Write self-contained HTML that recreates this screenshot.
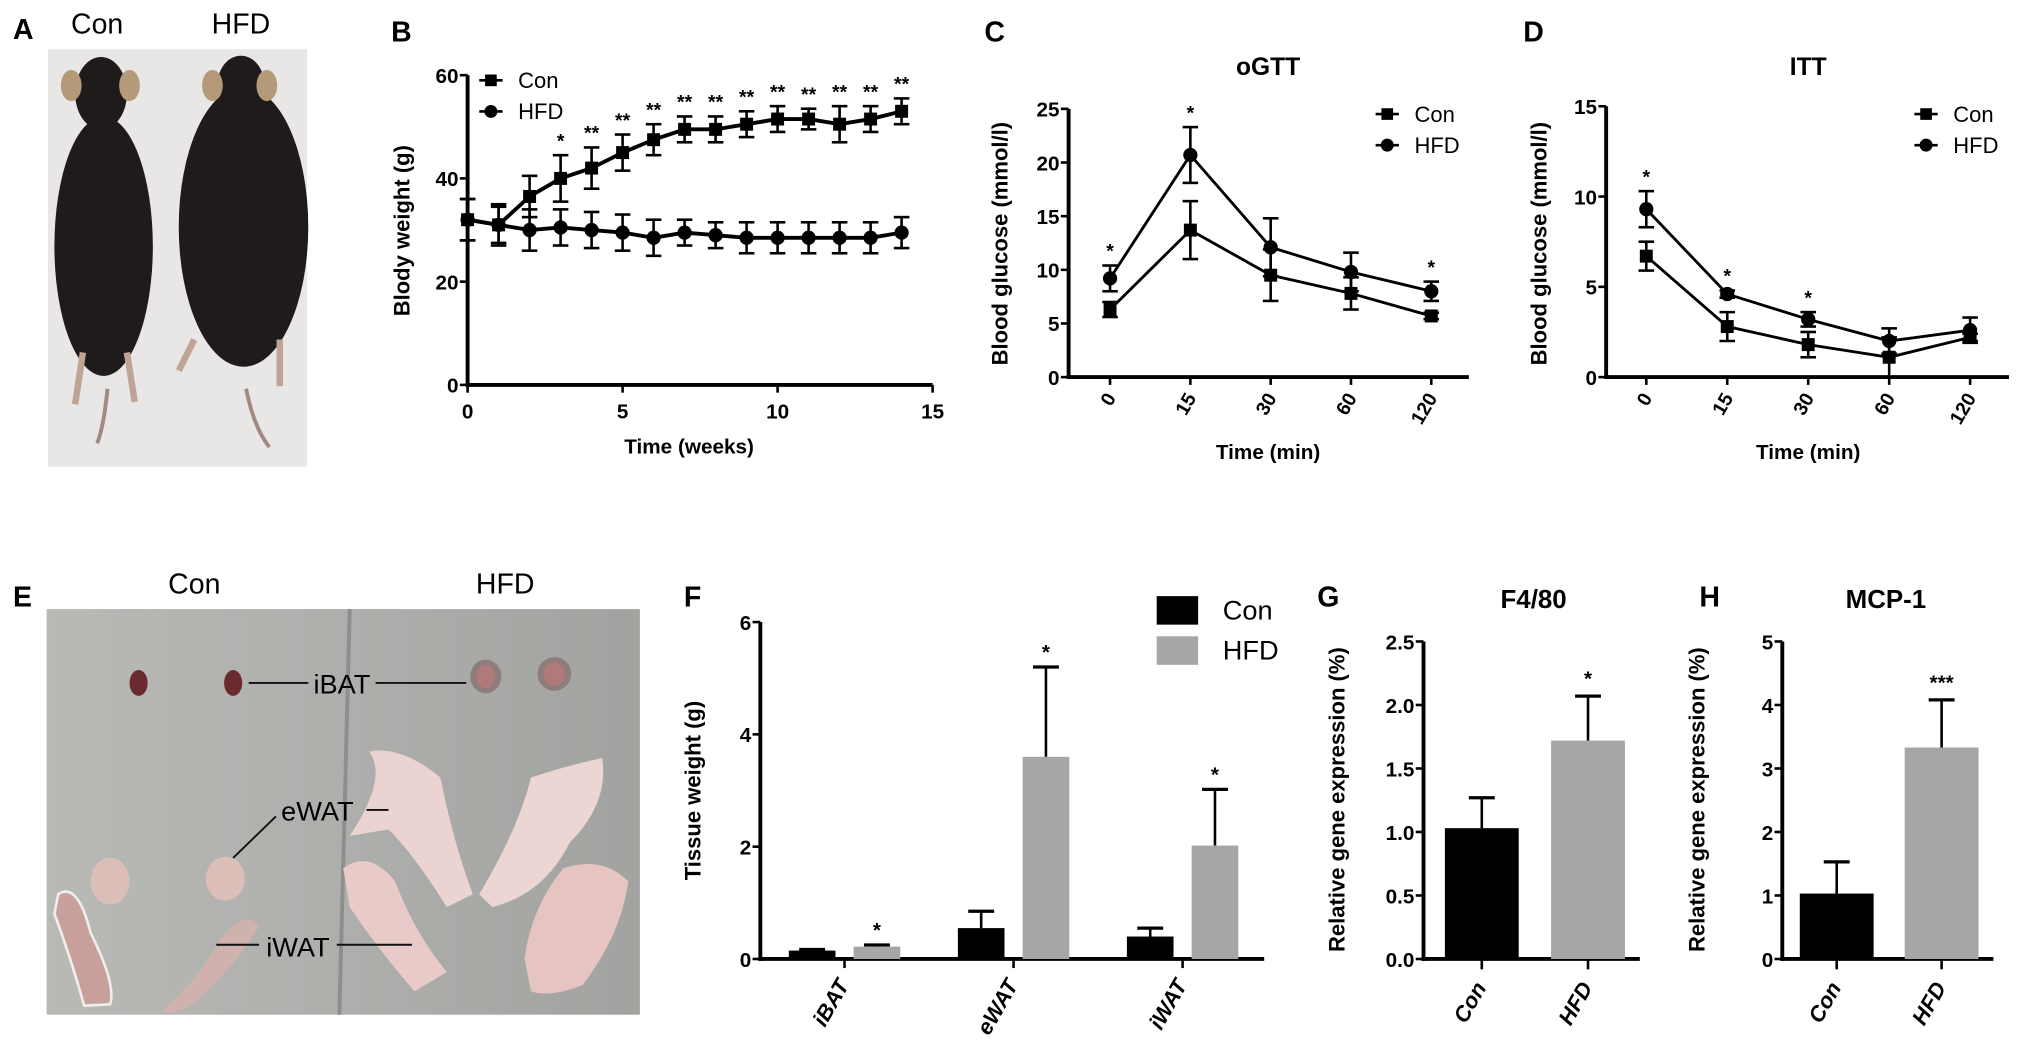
<!DOCTYPE html>
<html><head><meta charset="utf-8"><style>
html,body{margin:0;padding:0;background:#fff;}
svg{display:block;font-family:"Liberation Sans",Arial,sans-serif;}
</style></head><body>
<svg id="fig" width="2031" height="1051" viewBox="0 0 1568 811" preserveAspectRatio="none" xmlns="http://www.w3.org/2000/svg">
<defs>
<linearGradient id="egrad" x1="0" x2="1" y1="0" y2="0"><stop offset="0" stop-color="#b9b9b6"/><stop offset="0.5" stop-color="#aeafac"/><stop offset="1" stop-color="#a2a3a0"/></linearGradient>
</defs>
<!-- Panel A photo -->
<g>
<text x="10" y="30" font-size="22" font-weight="bold">A</text>
<text x="75" y="26" font-size="22" text-anchor="middle">Con</text>
<text x="186" y="26" font-size="22" text-anchor="middle">HFD</text>
<rect x="37" y="38" width="200" height="322" fill="#e9e7e5"/>
<g>
<path d="M83 300 Q80 330 75 342" stroke="#a08a82" stroke-width="3" fill="none"/>
<ellipse cx="80" cy="190" rx="38" ry="100" fill="#1f1b1a"/>
<ellipse cx="78" cy="72" rx="20" ry="28" fill="#1f1b1a"/>
<ellipse cx="55" cy="66" rx="8" ry="12" fill="#b59a7a"/>
<ellipse cx="100" cy="66" rx="8" ry="12" fill="#b59a7a"/>
<path d="M64 272 l-6 40 M98 272 l6 38" stroke="#bfa496" stroke-width="5"/>
</g>
<g>
<path d="M190 300 Q196 330 208 345" stroke="#a08a82" stroke-width="3" fill="none"/>
<ellipse cx="188" cy="175" rx="50" ry="108" fill="#1f1b1a"/>
<ellipse cx="186" cy="65" rx="18" ry="22" fill="#1f1b1a"/>
<ellipse cx="164" cy="66" rx="8" ry="12" fill="#b59a7a"/>
<ellipse cx="206" cy="66" rx="8" ry="12" fill="#b59a7a"/>
<path d="M150 262 l-12 24 M216 262 l0 36" stroke="#bfa496" stroke-width="5"/>
</g>
</g>
<!-- Panel E photo -->
<g>
<text x="10" y="468" font-size="22" font-weight="bold">E</text>
<text x="150" y="458" font-size="22" text-anchor="middle">Con</text>
<text x="390" y="458" font-size="22" text-anchor="middle">HFD</text>
<rect x="36" y="470" width="458" height="313" fill="url(#egrad)"/>
<path d="M270 470 L262 783" stroke="#8e8f8c" stroke-width="3"/>
<ellipse cx="107" cy="527" rx="7" ry="10" fill="#6a2a30"/>
<ellipse cx="180" cy="527" rx="7" ry="10" fill="#6a2a30"/>
<ellipse cx="375" cy="522" rx="12" ry="13" fill="#8e7d7a"/><ellipse cx="375" cy="522" rx="7" ry="9" fill="#b07a7a"/>
<ellipse cx="428" cy="520" rx="13" ry="13" fill="#8e7d7a"/><ellipse cx="428" cy="520" rx="8" ry="9" fill="#b07a7a"/>
<path d="M270 645 Q300 600 285 580 Q310 575 340 600 Q350 650 365 690 L345 700 Q320 660 300 640 Z" fill="#ead3d0"/>
<path d="M370 690 Q400 640 410 600 Q440 590 465 585 Q470 620 440 650 Q420 690 380 700 Z" fill="#ecd6d3"/>
<path d="M265 670 Q285 655 305 680 Q320 720 345 750 L320 765 Q290 730 270 700 Z" fill="#e8cac8"/>
<path d="M405 740 Q410 700 435 670 Q465 660 485 680 Q480 720 450 760 Q425 770 410 765 Z" fill="#e6c4c2"/>
<ellipse cx="85" cy="680" rx="15" ry="18" fill="#dcbfb8"/>
<ellipse cx="174" cy="678" rx="15" ry="17" fill="#dcbfb8"/>
<path d="M45 690 Q60 680 70 720 Q90 760 85 775 L65 776 Q55 740 42 705 Z" fill="#c99f9c" stroke="#eee" stroke-width="2"/>
<path d="M125 780 Q150 760 170 725 Q190 700 200 715 Q185 740 160 765 Q140 785 125 780 Z" fill="#cfb1ad"/>
<path d="M192 527 L238 527 M290 527 L360 527" stroke="#111" stroke-width="1.5"/>
<text x="264" y="535" font-size="21" text-anchor="middle">iBAT</text>
<text x="245" y="633" font-size="21" text-anchor="middle">eWAT</text>
<path d="M283 625 L300 625 M213 630 L180 662" stroke="#111" stroke-width="1.5"/>
<text x="230" y="738" font-size="21" text-anchor="middle">iWAT</text>
<path d="M167 729 L200 729 M260 729 L318 729" stroke="#111" stroke-width="1.5"/>
</g>
<g id="charts"></g>
</svg>
<script>
// Panel B data
const bWeeks=[0,1,2,3,4,5,6,7,8,9,10,11,12,13,14];
const bCon=[32,31,36.5,40,42,45,47.5,49.5,49.5,50.5,51.5,51.5,50.5,51.5,53];
const bConErr=[4,4,4,4.5,4,3.5,3,2.5,2.5,2.5,2.5,2,3.5,2.5,2.5];
const bHfd=[32,31,30,30.5,30,29.5,28.5,29.5,29,28.5,28.5,28.5,28.5,28.5,29.5];
const bHfdErr=[4,3.5,4,3.5,3.5,3.5,3.5,2.5,2.5,3,3,3,3,3,3];
const bStars=["","","","*","**","**","**","**","**","**","**","**","**","**","**"];
const bYTicks=[0,20,40,60];
const bXTicks=[0,5,10,15];
// Panel C data
const cCats=["0","15","30","60","120"];
const cCon=[6.3,13.7,9.5,7.8,5.7];
const cConErr=[0.7,2.7,2.4,1.5,0.3];
const cHfd=[9.2,20.7,12.1,9.8,8.0];
const cHfdErr=[1.2,2.6,2.7,1.8,0.9];
const cStars=["*","*","","","*"];
const cYTicks=[0,5,10,15,20,25];
// Panel D data
const dCats=["0","15","30","60","120"];
const dCon=[6.7,2.8,1.8,1.1,2.2];
const dConErr=[0.8,0.8,0.7,1.1,0.2];
const dHfd=[9.3,4.6,3.2,2.0,2.6];
const dHfdErr=[1.0,0.2,0.4,0.7,0.7];
const dStars=["*","*","*","",""];
const dYTicks=[0,5,10,15];
// Panel F data
const fCats=["iBAT","eWAT","iWAT"];
const fCon=[0.15,0.55,0.4];
const fConErr=[0.02,0.3,0.15];
const fHfd=[0.22,3.6,2.02];
const fHfdErr=[0.03,1.6,1.0];
const fStars=["*","*","*"];
const fYTicks=[0,2,4,6];
// Panel G data
const gCats=["Con","HFD"];
const gVals=[1.03,1.72];
const gErr=[0.24,0.35];
const gStars=["","*"];
const gYTicks=[0,0.5,1.0,1.5,2.0,2.5];
// Panel H data
const hCats=["Con","HFD"];
const hVals=[1.03,3.33];
const hErr=[0.5,0.75];
const hStars=["","***"];
const hYTicks=[0,1,2,3,4,5];

const NS="http://www.w3.org/2000/svg";
const root=document.getElementById('charts');
function mk(tag,attrs,parent){const e=document.createElementNS(NS,tag);for(const k in attrs)e.setAttribute(k,attrs[k]);(parent||root).appendChild(e);return e;}
function txt(s,attrs,parent){const e=mk('text',attrs,parent);e.textContent=s;return e;}

function yAxis(g,x,yTop,yBot,ticks,ymax,fmt,name){
  const l=mk('line',{x1:x,x2:x,y1:yTop,y2:yBot+1.5,stroke:'#000','stroke-width':3},g);
  
  
  ticks.forEach(v=>{const y=yBot-(v/ymax)*(yBot-yTop);
    mk('line',{x1:x-6,x2:x,y1:y,y2:y,stroke:'#000','stroke-width':2},g);
    const t=txt(fmt(v),{x:x-7,y:y+6,'font-size':16,'font-weight':'bold','text-anchor':'end'},g);
    
    });
}
function vLabel(g,s,x,cy,name,size){
  const t=txt(s,{x:x,y:cy,'font-size':size||17,'font-weight':'bold','text-anchor':'middle',transform:'rotate(-90 '+x+' '+cy+')'},g);
  
  
}
function errBar(g,x,y1,y2,cap,w){
  mk('line',{x1:x,x2:x,y1:y1,y2:y2,stroke:'#000','stroke-width':w||2},g);
  mk('line',{x1:x-cap,x2:x+cap,y1:y1,y2:y1,stroke:'#000','stroke-width':w||2.5},g);
  mk('line',{x1:x-cap,x2:x+cap,y1:y2,y2:y2,stroke:'#000','stroke-width':w||2.5},g);
}
function marker(g,x,y,shape,sz,name){
  let m;
  if(shape==='sq') m=mk('rect',{x:x-sz,y:y-sz,width:2*sz,height:2*sz,fill:'#000'},g);
  else m=mk('circle',{cx:x,cy:y,r:sz+0.5,fill:'#000'},g);
  
  
}
function series(g,xs,vals,errs,sy,shape,sz,lw,name){
  const pts=vals.map((v,i)=>xs[i]+','+sy(v)).join(' ');
  const pl=mk('polyline',{points:pts,fill:'none',stroke:'#000','stroke-width':lw},g);
  
  
  vals.forEach((v,i)=>{errBar(g,xs[i],sy(v+errs[i]),sy(v-errs[i]),6,2);marker(g,xs[i],sy(v),shape,sz,name+'-point');});
}
function legend(g,x,y,name){
  [['Con','sq'],['HFD','ci']].forEach((d,i)=>{
    const yy=y+i*24;
    mk('line',{x1:x,x2:x+18,y1:yy,y2:yy,stroke:'#000','stroke-width':2},g);
    marker(g,x+9,yy,d[1],4.5,name+'-legend-marker');
    const t=txt(d[0],{x:x+30,y:yy+6,'font-size':17},g);
    
    
  });
}
function panelLabel(g,s,x,y){
  const t=txt(s,{x:x,y:y,'font-size':22,'font-weight':'bold'},g);
  
  
}

// ---------- Panel B ----------
(function(){
  const g=mk('g',{});
  
  
  const X0=361,X1=720,YT=58,YB=297,YMAX=60,XMAX=15;
  const sx=v=>X0+v/XMAX*(X1-X0), sy=v=>YB-v/YMAX*(YB-YT);
  panelLabel(g,'B',302,32);
  yAxis(g,X0,YT,YB,bYTicks,YMAX,v=>String(v),'b');
  const xa=mk('line',{x1:X0-1.5,x2:X1,y1:YB,y2:YB,stroke:'#000','stroke-width':3},g);
  
  
  bXTicks.forEach(v=>{mk('line',{x1:sx(v),x2:sx(v),y1:YB,y2:YB+6,stroke:'#000','stroke-width':2},g);
    const t=txt(String(v),{x:sx(v),y:YB+26,'font-size':16,'font-weight':'bold','text-anchor':'middle'},g);
    
    });
  const xs=bWeeks.map(sx);
  series(g,xs,bHfd,bHfdErr,sy,'ci',5,3,'b-hfd');
  series(g,xs,bCon,bConErr,sy,'sq',5,3,'b-con');
  bStars.forEach((s,i)=>{if(!s)return;const t=txt(s,{x:xs[i],y:sy(bCon[i]+bConErr[i])-6,'font-size':15,'font-weight':'bold','text-anchor':'middle'},g);
    
    });
  legend(g,370,62,'b');
  const xt=txt('Time (weeks)',{x:532,y:350,'font-size':16,'font-weight':'bold','text-anchor':'middle'},g);
  
  
  vLabel(g,'Blody weight (g)',316,178,'b-y-axis-title');
})();

// ---------- Panels C & D ----------
function tolerance(cfg){
  const g=mk('g',{});
  
  
  const sy=v=>cfg.YB-v/cfg.ymax*(cfg.YB-cfg.YT);
  const xs=cfg.cats.map((c,i)=>cfg.xStart+i*cfg.step);
  panelLabel(g,cfg.letter,cfg.lx,32);
  const tt=txt(cfg.title,{x:cfg.tx,y:58,'font-size':19,'font-weight':'bold','text-anchor':'middle'},g);
  
  
  yAxis(g,cfg.X0,cfg.YT,cfg.YB,cfg.ticks,cfg.ymax,v=>String(v),cfg.name);
  const xa=mk('line',{x1:cfg.X0-1.5,x2:cfg.X1,y1:cfg.YB,y2:cfg.YB,stroke:'#000','stroke-width':3},g);
  
  
  cfg.cats.forEach((c,i)=>{const x=xs[i];mk('line',{x1:x,x2:x,y1:cfg.YB,y2:cfg.YB+6,stroke:'#000','stroke-width':2},g);
    const t=txt(c,{x:x+5,y:cfg.YB+16,'font-size':15,'font-weight':'bold','text-anchor':'end',transform:'rotate(-60 '+(x+5)+' '+(cfg.YB+16)+')'},g);
    
    });
  series(g,xs,cfg.con,cfg.conErr,sy,'sq',5,2.2,cfg.name+'-con');
  series(g,xs,cfg.hfd,cfg.hfdErr,sy,'ci',5,2.2,cfg.name+'-hfd');
  cfg.stars.forEach((s,i)=>{if(!s)return;const t=txt(s,{x:xs[i],y:sy(cfg.hfd[i]+cfg.hfdErr[i])-6,'font-size':15,'font-weight':'bold','text-anchor':'middle'},g);
    
    });
  legend(g,cfg.legX,88,cfg.name);
  const xt=txt('Time (min)',{x:cfg.tx,y:354,'font-size':16,'font-weight':'bold','text-anchor':'middle'},g);
  
  
  vLabel(g,'Blood glucose (mmol/l)',cfg.ylx,cfg.ylcy,cfg.name+'-y-axis-title');
}
tolerance({name:'c-ogtt',letter:'C',lx:760,title:'oGTT',tx:979,X0:825,X1:1134,YT:84,YB:291,ymax:25,ticks:cYTicks,
  cats:cCats,xStart:857,step:62,con:cCon,conErr:cConErr,hfd:cHfd,hfdErr:cHfdErr,stars:cStars,legX:1062,ylx:778,ylcy:188});
tolerance({name:'d-itt',letter:'D',lx:1176,title:'ITT',tx:1396,X0:1240,X1:1551,YT:82,YB:291,ymax:15,ticks:dYTicks,
  cats:dCats,xStart:1271,step:62.5,con:dCon,conErr:dConErr,hfd:dHfd,hfdErr:dHfdErr,stars:dStars,legX:1478,ylx:1194,ylcy:188});

// ---------- Bar panels ----------
function barAxes(g,X0,X1,YT,YB,ticks,ymax,fmt,name){
  yAxis(g,X0,YT,YB,ticks,ymax,fmt,name);
  const xa=mk('line',{x1:X0-1.5,x2:X1,y1:YB,y2:YB,stroke:'#000','stroke-width':3},g);
  
  
}
function bar(g,cx,w,v,e,sy,color,name){
  errBar(g,cx,sy(v+e),sy(v),0,2);
  mk('line',{x1:cx-10,x2:cx+10,y1:sy(v+e),y2:sy(v+e),stroke:'#000','stroke-width':2.5},g);
  const r=mk('rect',{x:cx-w/2,y:sy(v),width:w,height:sy(0)-sy(v),fill:color},g);
  
  
}
function catLabel(g,s,x,y,name){
  const t=txt(s,{x:x+4,y:y,'font-size':17,'font-weight':'bold','font-style':'italic','text-anchor':'end',transform:'rotate(-60 '+(x+4)+' '+y+')'},g);
  
  
}
// Panel F
(function(){
  const g=mk('g',{});
  
  
  const X0=587,X1=976,YT=480,YB=740,YMAX=6;
  const sy=v=>YB-v/YMAX*(YB-YT);
  const gx=i=>652+i*130.5;
  panelLabel(g,'F',528,468);
  barAxes(g,X0,X1,YT,YB,fYTicks,YMAX,v=>String(v),'f');
  fCats.forEach((c,i)=>{
    bar(g,gx(i)-25,36,fCon[i],fConErr[i],sy,'#000','f-bar-con-'+c.toLowerCase());
    bar(g,gx(i)+25,36,fHfd[i],fHfdErr[i],sy,'#a6a6a6','f-bar-hfd-'+c.toLowerCase());
    mk('line',{x1:gx(i),x2:gx(i),y1:YB,y2:YB+7,stroke:'#000','stroke-width':2},g);
    catLabel(g,c,gx(i),YB+20,'f-x-tick-label');
    const s=txt(fStars[i],{x:gx(i)+25,y:sy(fHfd[i]+fHfdErr[i])-6,'font-size':16,'font-weight':'bold','text-anchor':'middle'},g);
    
    
  });
  [['Con','#000'],['HFD','#a6a6a6']].forEach((d,i)=>{
    const r=mk('rect',{x:893,y:460+i*31,width:32,height:22,fill:d[1]},g);
    
    
    const t=txt(d[0],{x:944,y:478+i*31,'font-size':21},g);
    
    
  });
  vLabel(g,'Tissue weight (g)',541,610,'f-y-axis-title');
})();
function expr(cfg){
  const g=mk('g',{});
  
  
  const sy=v=>cfg.YB-v/cfg.ymax*(cfg.YB-cfg.YT);
  panelLabel(g,cfg.letter,cfg.lx,468);
  const tt=txt(cfg.title,{x:cfg.tx,y:469,'font-size':20,'font-weight':'bold','text-anchor':'middle'},g);
  
  
  barAxes(g,cfg.X0,cfg.X1,cfg.YT,cfg.YB,cfg.ticks,cfg.ymax,cfg.fmt,cfg.name);
  cfg.cats.forEach((c,i)=>{
    const cx=cfg.c0+i*cfg.step;
    bar(g,cx,57,cfg.vals[i],cfg.err[i],sy,i===0?'#000':'#a6a6a6',cfg.name+'-bar-'+c.toLowerCase());
    mk('line',{x1:cx,x2:cx,y1:cfg.YB,y2:cfg.YB+8,stroke:'#000','stroke-width':2},g);
    catLabel(g,c,cx,cfg.YB+22,cfg.name+'-x-tick-label');
    if(cfg.stars[i]){const s=txt(cfg.stars[i],{x:cx,y:sy(cfg.vals[i]+cfg.err[i])-8,'font-size':16,'font-weight':'bold','text-anchor':'middle'},g);
      
      }
  });
  vLabel(g,'Relative gene expression (%)',cfg.ylx,617,cfg.name+'-y-axis-title');
}
expr({name:'g-f4-80',letter:'G',lx:1017,title:'F4/80',tx:1184,X0:1099,X1:1266,YT:495,YB:740,ymax:2.5,ticks:gYTicks,fmt:v=>v.toFixed(1),
  cats:gCats,c0:1144,step:82,vals:gVals,err:gErr,stars:gStars,ylx:1038});
expr({name:'h-mcp-1',letter:'H',lx:1312,title:'MCP-1',tx:1456,X0:1376,X1:1539,YT:495,YB:740,ymax:5,ticks:hYTicks,fmt:v=>String(v),
  cats:hCats,c0:1418,step:81,vals:hVals,err:hErr,stars:hStars,ylx:1316});
</script>
</body></html>
